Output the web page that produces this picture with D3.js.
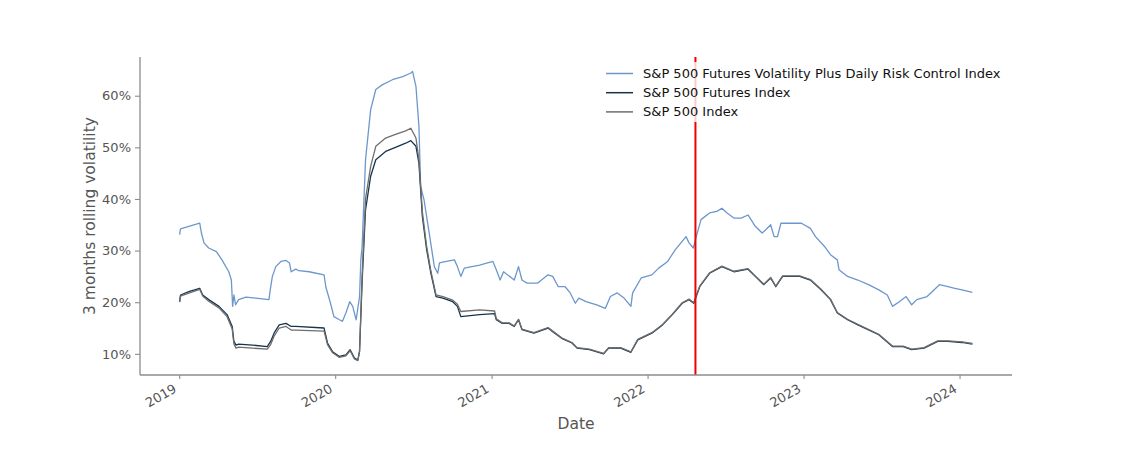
<!DOCTYPE html>
<html>
<head>
<meta charset="utf-8">
<script src="https://cdn.jsdelivr.net/npm/d3@7"></script>
<style>
  html, body { margin: 0; padding: 0; background: #fff; }
  svg { display: block; font-family: "DejaVu Sans", sans-serif; }
</style>
</head>
<body>
<svg id="chart" width="1125" height="469"></svg>
<script>
// ---- Data (3 months rolling volatility, %) ----
const seriesNames = [
  "S&P 500 Futures Volatility Plus Daily Risk Control Index",
  "S&P 500 Futures Index",
  "S&P 500 Index"
];

const riskControl = [
  ["2019-01-02",33.1],["2019-01-04",34.2],["2019-02-18",35.3],["2019-02-22",33.4],["2019-02-28",31.5],
  ["2019-03-11",30.5],["2019-03-29",29.8],["2019-04-11",28.2],["2019-04-27",25.9],["2019-05-03",24.3],
  ["2019-05-06",19.2],["2019-05-09",21.4],["2019-05-13",19.5],["2019-05-20",20.5],["2019-06-06",21.0],
  ["2019-06-29",20.8],["2019-07-30",20.5],["2019-08-02",22.4],["2019-08-07",25.0],["2019-08-15",26.9],
  ["2019-08-27",27.9],["2019-09-08",28.1],["2019-09-16",27.6],["2019-09-20",25.9],["2019-10-01",26.4],
  ["2019-10-08",26.1],["2019-11-01",25.9],["2019-12-06",25.3],["2019-12-10",23.0],["2019-12-21",19.8],
  ["2019-12-29",17.2],["2020-01-11",16.6],["2020-01-18",16.3],["2020-01-26",17.9],["2020-02-04",20.1],
  ["2020-02-11",19.2],["2020-02-19",16.6],["2020-02-27",21.1],["2020-03-01",28.2],["2020-03-04",30.8],
  ["2020-03-12",47.6],["2020-03-24",57.3],["2020-04-05",61.2],["2020-04-20",62.1],["2020-05-14",63.1],
  ["2020-06-07",63.7],["2020-06-26",64.4],["2020-06-30",64.7],["2020-07-08",61.8],["2020-07-15",54.0],
  ["2020-07-19",42.4],["2020-07-27",39.8],["2020-08-08",33.4],["2020-08-20",26.9],["2020-08-28",25.6],
  ["2020-09-01",27.6],["2020-09-17",27.9],["2020-10-06",28.2],["2020-10-13",26.9],["2020-10-21",25.0],
  ["2020-10-29",26.6],["2020-12-04",27.2],["2021-01-04",27.9],["2021-01-12",26.3],["2021-01-21",24.3],
  ["2021-01-29",25.9],["2021-02-23",24.3],["2021-03-05",26.9],["2021-03-13",24.3],["2021-03-25",23.7],
  ["2021-04-19",23.7],["2021-05-13",25.3],["2021-05-24",25.0],["2021-06-06",23.0],["2021-06-22",23.0],
  ["2021-07-04",21.8],["2021-07-16",19.8],["2021-07-24",20.8],["2021-08-10",20.1],["2021-09-04",19.5],
  ["2021-09-24",18.8],["2021-10-06",21.1],["2021-10-22",21.8],["2021-11-07",20.8],["2021-11-23",19.2],
  ["2021-11-27",21.8],["2021-12-17",24.7],["2022-01-11",25.3],["2022-01-27",26.6],["2022-02-17",27.9],
  ["2022-03-07",30.2],["2022-04-01",32.7],["2022-04-08",31.5],["2022-04-18",30.5],["2022-04-24",32.4],
  ["2022-05-06",36.0],["2022-05-26",37.3],["2022-06-12",37.6],["2022-06-24",38.2],["2022-07-06",37.3],
  ["2022-07-22",36.3],["2022-08-08",36.3],["2022-08-24",36.9],["2022-09-10",34.7],["2022-09-26",33.4],
  ["2022-10-04",34.0],["2022-10-16",35.0],["2022-10-24",32.7],["2022-11-01",32.7],["2022-11-09",35.3],
  ["2022-11-29",35.3],["2022-12-27",35.3],["2023-01-17",34.3],["2023-01-29",32.7],["2023-02-19",30.8],
  ["2023-03-05",29.2],["2023-03-21",28.2],["2023-03-25",26.3],["2023-04-14",25.0],["2023-05-08",24.3],
  ["2023-06-02",23.4],["2023-06-26",22.4],["2023-07-16",21.4],["2023-07-28",19.2],["2023-08-13",20.1],
  ["2023-08-29",21.1],["2023-09-11",19.5],["2023-09-23",20.5],["2023-10-17",21.1],["2023-11-15",23.4],
  ["2023-12-05",23.0],["2023-12-21",22.7],["2024-01-07",22.4],["2024-01-31",21.9]
];

const futuresIndex = [
  ["2019-01-02",20.1],["2019-01-04",21.4],["2019-01-25",22.1],["2019-02-18",22.7],["2019-02-25",21.4],
  ["2019-03-11",20.5],["2019-04-04",19.2],["2019-04-23",17.6],["2019-05-05",15.3],["2019-05-09",12.4],
  ["2019-05-14",11.7],["2019-05-20",11.9],["2019-06-21",11.7],["2019-07-26",11.4],["2019-08-03",12.4],
  ["2019-08-11",14.0],["2019-08-23",15.6],["2019-09-08",15.9],["2019-09-20",15.3],["2019-10-01",15.3],
  ["2019-12-06",15.0],["2019-12-14",12.1],["2019-12-26",10.4],["2020-01-11",9.5],["2020-01-26",9.8],
  ["2020-02-05",10.8],["2020-02-15",9.2],["2020-02-23",8.8],["2020-02-27",10.5],["2020-03-04",24.0],
  ["2020-03-12",37.9],["2020-03-24",44.4],["2020-04-05",47.6],["2020-04-28",49.2],["2020-05-21",50.0],
  ["2020-06-14",50.8],["2020-06-26",51.3],["2020-07-08",50.2],["2020-07-15",46.9],["2020-07-23",36.6],
  ["2020-08-02",30.2],["2020-08-12",25.6],["2020-08-24",21.1],["2020-09-09",20.8],["2020-10-02",20.1],
  ["2020-10-13",19.2],["2020-10-21",17.2],["2020-12-04",17.6],["2021-01-08",17.8],["2021-01-12",16.6],
  ["2021-01-26",15.9],["2021-02-11",15.9],["2021-02-23",15.3],["2021-03-05",16.6],["2021-03-13",14.7],
  ["2021-04-10",14.0],["2021-05-13",15.0],["2021-05-24",14.3],["2021-06-14",13.0],["2021-07-08",12.1],
  ["2021-07-20",11.1],["2021-08-18",10.8],["2021-09-20",10.0],["2021-10-02",11.1],["2021-10-30",11.1],
  ["2021-11-23",10.3],["2021-12-09",12.7],["2022-01-11",14.0],["2022-02-05",15.6],["2022-02-28",17.6],
  ["2022-03-23",19.8],["2022-04-08",20.5],["2022-04-19",19.8],["2022-05-03",23.0],["2022-05-26",25.6],
  ["2022-06-24",26.9],["2022-07-22",25.9],["2022-08-24",26.4],["2022-09-10",25.0],["2022-09-30",23.4],
  ["2022-10-16",24.7],["2022-10-28",23.0],["2022-11-13",25.0],["2022-12-23",25.0],["2023-01-17",24.3],
  ["2023-02-11",22.4],["2023-03-05",20.5],["2023-03-21",17.9],["2023-04-14",16.6],["2023-05-08",15.6],
  ["2023-06-26",13.7],["2023-07-28",11.4],["2023-08-22",11.4],["2023-09-11",10.8],["2023-10-10",11.1],
  ["2023-11-11",12.4],["2023-12-05",12.4],["2024-01-07",12.2],["2024-01-31",11.9]
];

const spxIndex = [
  ["2019-01-02",20.0],["2019-01-04",21.2],["2019-01-25",21.8],["2019-02-18",22.5],["2019-02-25",21.2],
  ["2019-03-11",20.2],["2019-04-04",18.9],["2019-04-23",17.2],["2019-05-05",14.8],["2019-05-09",11.9],
  ["2019-05-14",11.1],["2019-05-20",11.3],["2019-06-21",11.1],["2019-07-26",10.9],["2019-08-03",11.8],
  ["2019-08-11",13.4],["2019-08-23",15.0],["2019-09-08",15.3],["2019-09-20",14.6],["2019-10-01",14.6],
  ["2019-12-06",14.4],["2019-12-14",11.8],["2019-12-26",10.2],["2020-01-11",9.3],["2020-01-26",9.6],
  ["2020-02-05",10.6],["2020-02-15",9.0],["2020-02-23",8.7],["2020-02-27",10.5],["2020-03-04",25.0],
  ["2020-03-12",40.0],["2020-03-24",46.3],["2020-04-05",50.2],["2020-04-28",51.8],["2020-05-21",52.5],
  ["2020-06-14",53.2],["2020-06-26",53.7],["2020-07-08",51.8],["2020-07-15",47.6],["2020-07-23",37.5],
  ["2020-08-02",30.8],["2020-08-12",26.0],["2020-08-24",21.4],["2020-09-09",21.1],["2020-10-02",20.4],
  ["2020-10-13",19.6],["2020-10-21",18.2],["2020-12-04",18.5],["2021-01-08",18.3],["2021-01-12",16.8],
  ["2021-01-26",16.0],["2021-02-11",16.0],["2021-02-23",15.4],["2021-03-05",16.7],["2021-03-13",14.8],
  ["2021-04-10",14.1],["2021-05-13",15.1],["2021-05-24",14.4],["2021-06-14",13.1],["2021-07-08",12.2],
  ["2021-07-20",11.2],["2021-08-18",10.9],["2021-09-20",10.1],["2021-10-02",11.2],["2021-10-30",11.2],
  ["2021-11-23",10.4],["2021-12-09",12.8],["2022-01-11",14.1],["2022-02-05",15.7],["2022-02-28",17.7],
  ["2022-03-23",19.9],["2022-04-08",20.6],["2022-04-19",19.9],["2022-05-03",23.1],["2022-05-26",25.7],
  ["2022-06-24",27.0],["2022-07-22",26.0],["2022-08-24",26.5],["2022-09-10",25.1],["2022-09-30",23.5],
  ["2022-10-16",24.8],["2022-10-28",23.1],["2022-11-13",25.1],["2022-12-23",25.1],["2023-01-17",24.4],
  ["2023-02-11",22.5],["2023-03-05",20.6],["2023-03-21",18.0],["2023-04-14",16.7],["2023-05-08",15.7],
  ["2023-06-26",13.8],["2023-07-28",11.5],["2023-08-22",11.5],["2023-09-11",10.9],["2023-10-10",11.2],
  ["2023-11-11",12.5],["2023-12-05",12.5],["2024-01-07",12.3],["2024-01-31",12.0]
];

const markerDate = "2022-04-23";
const yTicks = [10, 20, 30, 40, 50, 60];
const xTickYears = [2019, 2020, 2021, 2022, 2023, 2024];
const colors = ["#6d97cb", "#17344f", "#6e6e6e"];

// ---- Layout ----
const parse = d3.timeParse("%Y-%m-%d");
const allSeries = [riskControl, futuresIndex, spxIndex].map(s => s.map(d => ({date: parse(d[0]), value: d[1]})));
const svg = d3.select("#chart");
const mLeft = 140, mRight = 1012, mTop = 57, mBottom = 375;

const allPts = allSeries.flat();
const [d0, d1] = d3.extent(allPts, d => d.date);
const span = d1 - d0;
const x = d3.scaleTime()
  .domain([new Date(+d0 - span * 0.05), new Date(+d1 + span * 0.05)])
  .range([mLeft, mRight]);
const [v0, v1] = d3.extent(allPts, d => d.value);
const vr = v1 - v0;
const y = d3.scaleLinear().domain([v0 - vr * 0.05, v1 + vr * 0.05]).range([mBottom, mTop]);

// lines
const line = d3.line().x(d => x(d.date)).y(d => y(d.value));
allSeries.forEach((s, i) => {
  svg.append("path").datum(s)
    .attr("fill", "none").attr("stroke", colors[i])
    .attr("stroke-width", 1.3).attr("stroke-linejoin", "round")
    .attr("d", line);
});

// red vertical marker
svg.append("line")
  .attr("x1", x(parse(markerDate))).attr("x2", x(parse(markerDate)))
  .attr("y1", mTop).attr("y2", mBottom)
  .attr("stroke", "#ee0000").attr("stroke-width", 2);

// axes
const axisColor = "#8c8c8c", textColor = "#555";
const yAxis = svg.append("g").attr("transform", `translate(${mLeft},0)`)
  .call(d3.axisLeft(y).tickValues(yTicks).tickFormat(d => d + "%").tickSize(5).tickPadding(4));
const xAxis = svg.append("g").attr("transform", `translate(0,${mBottom})`)
  .call(d3.axisBottom(x).tickValues(xTickYears.map(yr => new Date(yr, 0, 1)))
    .tickFormat(d3.timeFormat("%Y")).tickSize(4));
[yAxis, xAxis].forEach(g => {
  g.select(".domain").attr("stroke", axisColor).attr("stroke-width", 1.3);
  g.selectAll(".tick line").attr("stroke", axisColor).attr("stroke-width", 1.1);
  g.selectAll("text").attr("fill", textColor).attr("font-size", 13).attr("font-family", "DejaVu Sans");
});
yAxis.select(".domain").attr("d", `M0,${mTop}V${mBottom}`);
xAxis.select(".domain").attr("d", `M${mLeft},0H${mRight}`);

xAxis.selectAll(".tick text")
  .attr("text-anchor", "end")
  .attr("dy", null).attr("y", 0)
  .attr("transform", "translate(-7,8) rotate(-30)")
  .attr("dominant-baseline", "hanging");

// axis labels
svg.append("text").attr("x", (mLeft + mRight) / 2).attr("y", 429)
  .attr("text-anchor", "middle").attr("fill", textColor)
  .attr("font-size", 15.5).text("Date");
svg.append("text").attr("transform", `translate(95,${(mTop + mBottom) / 2}) rotate(-90)`)
  .attr("text-anchor", "middle").attr("fill", textColor)
  .attr("font-size", 15.5).text("3 months rolling volatility");

// legend
const lg = svg.append("g");
lg.append("rect").attr("x", 597).attr("y", 62).attr("width", 410).attr("height", 60)
  .attr("fill", "#fff").attr("fill-opacity", 0.8);
seriesNames.forEach((name, i) => {
  const yy = 73.5 + i * 19.2;
  lg.append("line").attr("x1", 606).attr("x2", 633).attr("y1", yy).attr("y2", yy)
    .attr("stroke", colors[i]).attr("stroke-width", 1.5);
  lg.append("text").attr("x", 643).attr("y", yy).attr("dy", "0.35em")
    .attr("font-size", 13).attr("fill", "#111").text(name);
});
</script>
</body>
</html>
